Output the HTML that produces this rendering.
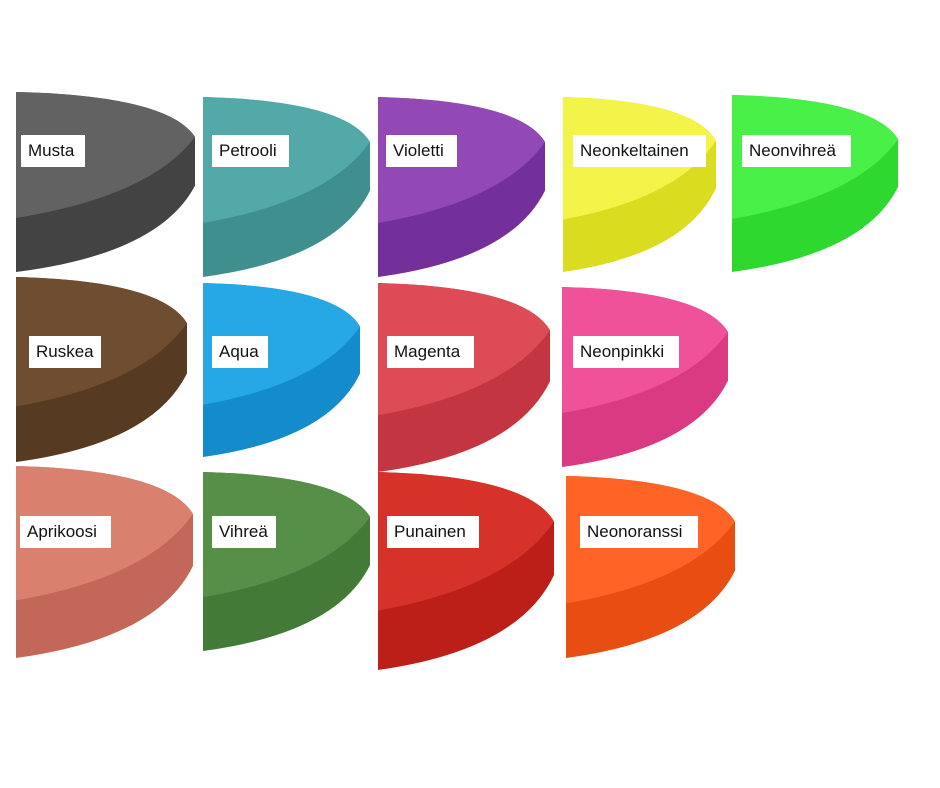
<!DOCTYPE html>
<html><head><meta charset="utf-8"><style>
body{margin:0;background:#fff;width:940px;height:788px;overflow:hidden;position:relative;font-family:"Liberation Sans",sans-serif}
.l{position:absolute;background:#fff;color:#111;font-size:17px;height:32px;line-height:32px;padding:0 7px;box-sizing:border-box}
svg{position:absolute;left:0;top:0}
</style></head><body>
<svg width="940" height="788" id="s"></svg>
<script>
var T=[
[16,92,179,180,'#626262','#434343'],
[203,97,167,180,'#52a9a8','#3f8f8e'],
[378,97,167,180,'#9248b5','#74309a'],
[563,97,153,175,'#f2f44a','#dadc20'],
[732,95,166,177,'#48f048','#2fd82f'],
[16,277,171,185,'#6e4d31','#573a22'],
[203,283,157,174,'#26a8e4','#148ccb'],
[378,283,172,189,'#dc4b56','#c33540'],
[562,287,166,180,'#f0529a','#d93a82'],
[16,466,177,192,'#d9806f','#c36858'],
[203,472,167,179,'#568f48','#437a37'],
[378,472,176,198,'#d6322a','#bb1f18'],
[566,476,169,182,'#fd6426','#e84d12']];
var h='';
T.forEach(function(t){var x=t[0],y=t[1],w=t[2],H=t[3];
var outer='M'+x+','+y+' Q'+(x+w*0.85)+','+(y+0.02*H)+' '+(x+w)+','+(y+0.25*H)+' L'+(x+w)+','+(y+0.52*H)+' Q'+(x+w*0.8)+','+(y+0.9*H)+' '+x+','+(y+H)+' Z';
var top='M'+x+','+y+' Q'+(x+w*0.85)+','+(y+0.02*H)+' '+(x+w)+','+(y+0.25*H)+' Q'+(x+w*0.75)+','+(y+0.58*H)+' '+x+','+(y+0.7*H)+' Z';
h+='<path d="'+outer+'" fill="'+t[5]+'"/><path d="'+top+'" fill="'+t[4]+'"/>';});
document.getElementById('s').innerHTML=h;
</script>
<div class="l" style="left:21px;top:135px;width:64px">Musta</div>
<div class="l" style="left:212px;top:135px;width:77px">Petrooli</div>
<div class="l" style="left:386px;top:135px;width:71px">Violetti</div>
<div class="l" style="left:573px;top:135px;width:133px">Neonkeltainen</div>
<div class="l" style="left:742px;top:135px;width:109px">Neonvihreä</div>
<div class="l" style="left:29px;top:336px;width:72px">Ruskea</div>
<div class="l" style="left:212px;top:336px;width:56px">Aqua</div>
<div class="l" style="left:387px;top:336px;width:87px">Magenta</div>
<div class="l" style="left:573px;top:336px;width:106px">Neonpinkki</div>
<div class="l" style="left:20px;top:516px;width:91px">Aprikoosi</div>
<div class="l" style="left:212px;top:516px;width:64px">Vihreä</div>
<div class="l" style="left:387px;top:516px;width:92px">Punainen</div>
<div class="l" style="left:580px;top:516px;width:118px">Neonoranssi</div>
</body></html>
